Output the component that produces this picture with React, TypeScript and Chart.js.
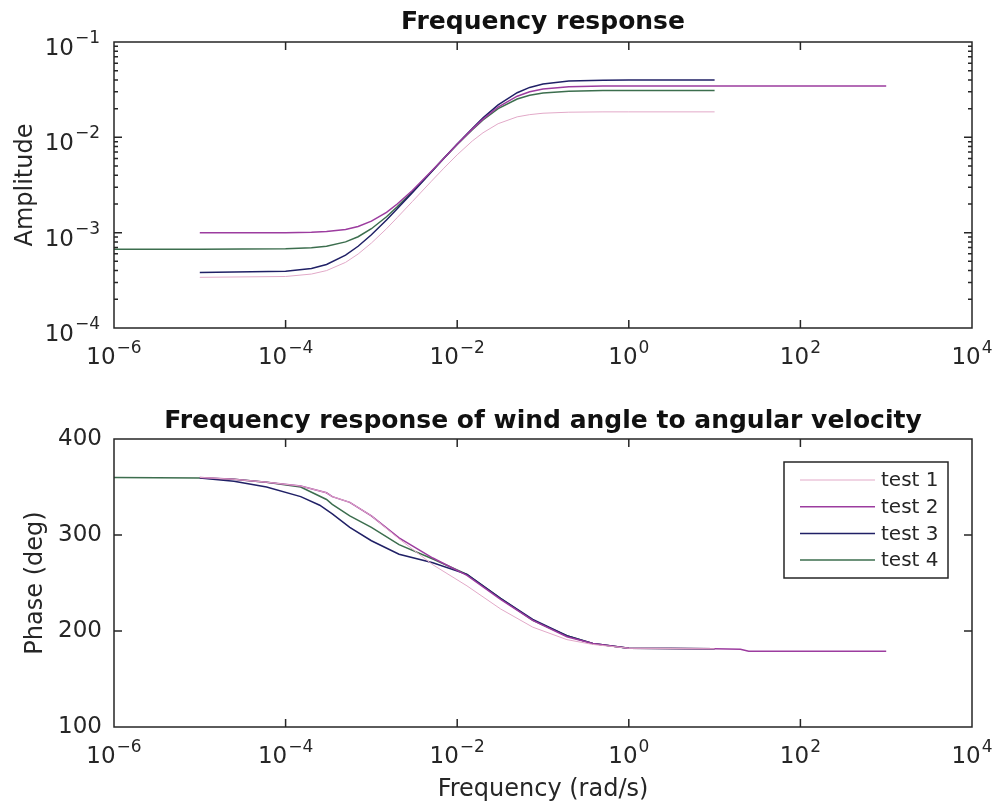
import React, { useEffect, useRef } from 'react';
import { Chart, registerables } from 'chart.js';

Chart.register(...registerables);

// ---------- data ----------
const seriesLabels = ['test 1', 'test 2', 'test 3', 'test 4'];
const seriesColors = ['#e2a9c8', '#9c3c9f', '#202066', '#3c6e4e'];
const seriesWidths = [1, 1.5, 1.5, 1.5];

// amplitude (top panel)
const ampFreq1 = [1e-5, 1e-4, 2e-4, 3e-4, 5e-4, 7e-4, 1e-3, 1.5e-3, 2e-3, 3e-3, 5e-3, 7e-3, 1e-2, 1.5e-2, 2e-2, 3e-2, 5e-2, 7e-2, 0.1, 0.2, 0.5, 1, 10];
const amp1 = [3.4e-4, 3.47e-4, 3.68e-4, 4.0e-4, 4.88e-4, 5.97e-4, 7.78e-4, 1.1e-3, 1.44e-3, 2.12e-3, 3.46e-3, 4.75e-3, 6.56e-3, 9.15e-3, 1.117e-2, 1.39e-2, 1.64e-2, 1.73e-2, 1.79e-2, 1.835e-2, 1.85e-2, 1.85e-2, 1.85e-2];

const ampFreq2 = [1e-5, 1e-4, 2e-4, 3e-4, 5e-4, 7e-4, 1e-3, 1.5e-3, 2e-3, 3e-3, 5e-3, 7e-3, 1e-2, 1.5e-2, 2e-2, 3e-2, 5e-2, 7e-2, 0.1, 0.2, 0.5, 1, 10, 100, 1000];
const amp2 = [1.0e-3, 1.0e-3, 1.01e-3, 1.03e-3, 1.08e-3, 1.16e-3, 1.32e-3, 1.63e-3, 2.0e-3, 2.77e-3, 4.4e-3, 6.04e-3, 8.45e-3, 1.22e-2, 1.55e-2, 2.08e-2, 2.7e-2, 3.0e-2, 3.21e-2, 3.39e-2, 3.45e-2, 3.46e-2, 3.46e-2, 3.46e-2, 3.46e-2];

const ampFreq3 = [1e-5, 1e-4, 2e-4, 3e-4, 5e-4, 7e-4, 1e-3, 1.5e-3, 2e-3, 3e-3, 5e-3, 7e-3, 1e-2, 1.5e-2, 2e-2, 3e-2, 5e-2, 7e-2, 0.1, 0.2, 0.5, 1, 10];
const amp3 = [3.83e-4, 3.93e-4, 4.2e-4, 4.63e-4, 5.8e-4, 7.2e-4, 9.5e-4, 1.36e-3, 1.78e-3, 2.63e-3, 4.34e-3, 6.03e-3, 8.5e-3, 1.24e-2, 1.6e-2, 2.19e-2, 2.94e-2, 3.34e-2, 3.63e-2, 3.9e-2, 3.98e-2, 4.0e-2, 4.0e-2];

const ampFreq4 = [1e-6, 1e-5, 1e-4, 2e-4, 3e-4, 5e-4, 7e-4, 1e-3, 1.5e-3, 2e-3, 3e-3, 5e-3, 7e-3, 1e-2, 1.5e-2, 2e-2, 3e-2, 5e-2, 7e-2, 0.1, 0.2, 0.5, 1, 10];
const amp4 = [6.7e-4, 6.7e-4, 6.77e-4, 6.93e-4, 7.2e-4, 8.0e-4, 9.06e-4, 1.1e-3, 1.47e-3, 1.87e-3, 2.69e-3, 4.36e-3, 6.02e-3, 8.41e-3, 1.2e-2, 1.52e-2, 2.0e-2, 2.52e-2, 2.76e-2, 2.92e-2, 3.05e-2, 3.09e-2, 3.1e-2, 3.1e-2];

// phase (bottom panel)
const phaseFreq1 = [1e-5, 2.5e-5, 6e-5, 1.5e-4, 3e-4, 3.5e-4, 5.6e-4, 1e-3, 2.1e-3, 5.2e-3, 1.3e-2, 3.2e-2, 7.6e-2, 0.19, 0.38, 1, 10];
const phase1 = [360, 358, 355, 351, 344, 340, 334, 320, 296, 269, 247, 223, 204, 191, 186, 182, 181.5];

const phaseFreq2 = [1e-5, 2.5e-5, 6e-5, 1.5e-4, 3e-4, 3.5e-4, 5.6e-4, 1e-3, 2.1e-3, 5.2e-3, 1.3e-2, 3.2e-2, 7.6e-2, 0.19, 0.38, 1, 10, 20, 25, 1000];
const phase2 = [360, 358, 355, 351, 344, 340, 334, 320, 297, 276, 258, 233, 211, 194, 187, 182, 181.5, 181, 179, 179];

const phaseFreq3 = [1e-5, 2.5e-5, 6e-5, 1.5e-4, 2.5e-4, 3.5e-4, 5.6e-4, 1e-3, 2.1e-3, 5.2e-3, 1.3e-2, 3.2e-2, 7.6e-2, 0.19, 0.38, 1, 10];
const phase3 = [359.5, 356, 350, 340, 331, 322, 308, 294, 280, 271, 259, 234, 212, 195, 187, 182, 181.5];

const phaseFreq4 = [1e-6, 1e-5, 2.5e-5, 6e-5, 1.5e-4, 3e-4, 3.5e-4, 5.6e-4, 1e-3, 2.1e-3, 5.2e-3, 1.3e-2, 3.2e-2, 7.6e-2, 0.19, 0.38, 1, 10];
const phase4 = [360, 359.5, 358, 355, 350, 337, 332, 320, 308, 290, 275, 259, 234, 211, 195, 187, 182, 181.5];

// ticks
const xTickValues = [1e-6, 1e-4, 1e-2, 1, 1e2, 1e4];
const ampTickValues = [1e-4, 1e-3, 1e-2, 1e-1];
const phaseTickValues = [100, 200, 300, 400];

// ---------- helpers ----------
const FONT = "'DejaVu Sans', sans-serif";
const TEXT = '#262626';
const zip = (xs: number[], ys: number[]) => xs.map((x, i) => ({ x, y: ys[i] }));
const expText = (v: number) => String(Math.round(Math.log10(v))).replace('-', '\u2212');

const ampMinorTicks: number[] = [];
for (let d = -4; d < -1; d++) for (let m = 2; m <= 9; m++) ampMinorTicks.push(m * Math.pow(10, d));

const framePlugin = {
  id: 'frame',
  afterDatasetsDraw(chart: any, _args: any, opts: any) {
    const { ctx, chartArea: a } = chart;
    const xs = chart.scales.x;
    const ys = chart.scales.y;
    ctx.save();
    ctx.strokeStyle = TEXT;
    ctx.lineWidth = 1.5;
    ctx.beginPath();
    const major = 8;
    const minor = 4;
    for (const t of xs.ticks) {
      const px = xs.getPixelForValue(t.value);
      if (px <= a.left + 1 || px >= a.right - 1) continue;
      ctx.moveTo(px, a.bottom); ctx.lineTo(px, a.bottom - major);
      ctx.moveTo(px, a.top); ctx.lineTo(px, a.top + major);
    }
    for (const t of ys.ticks) {
      const py = ys.getPixelForValue(t.value);
      if (py <= a.top + 1 || py >= a.bottom - 1) continue;
      ctx.moveTo(a.left, py); ctx.lineTo(a.left + major, py);
      ctx.moveTo(a.right, py); ctx.lineTo(a.right - major, py);
    }
    for (const v of (opts && opts.minorY) || []) {
      const py = ys.getPixelForValue(v);
      ctx.moveTo(a.left, py); ctx.lineTo(a.left + minor, py);
      ctx.moveTo(a.right, py); ctx.lineTo(a.right - minor, py);
    }
    ctx.stroke();
    ctx.strokeRect(a.left, a.top, a.right - a.left, a.bottom - a.top);
    ctx.restore();
  },
};

// power-of-ten tick labels ("10" with a raised exponent) for log axes
const powLabelPlugin = {
  id: 'powLabels',
  afterDraw(chart: any, _args: any, opts: any) {
    const axes: string[] = (opts && opts.axes) || [];
    const { ctx, chartArea: a } = chart;
    ctx.save();
    ctx.fillStyle = TEXT;
    ctx.textBaseline = 'alphabetic';
    ctx.textAlign = 'left';
    for (const id of axes) {
      const s = chart.scales[id];
      for (const t of s.ticks) {
        const e = expText(t.value);
        ctx.font = `23px ${FONT}`;
        const wb = ctx.measureText('10').width;
        ctx.font = `17px ${FONT}`;
        const we = ctx.measureText(e).width;
        if (s.isHorizontal()) {
          const px = s.getPixelForValue(t.value);
          const x0 = px - (wb + we + 1) / 2;
          const base = a.bottom + 36;
          ctx.font = `23px ${FONT}`;
          ctx.fillText('10', x0, base);
          ctx.font = `17px ${FONT}`;
          ctx.fillText(e, x0 + wb + 1, base - 11);
        } else {
          const py = s.getPixelForValue(t.value);
          const xr = a.left - 14;
          ctx.font = `17px ${FONT}`;
          ctx.fillText(e, xr - we, py + 1);
          ctx.font = `23px ${FONT}`;
          ctx.fillText('10', xr - we - 1 - wb, py + 13);
        }
      }
    }
    ctx.restore();
  },
};

const boxLegendPlugin = {
  id: 'boxLegend',
  afterDraw(chart: any, _args: any, opts: any) {
    if (!opts || !opts.show) return;
    const { ctx, chartArea: a } = chart;
    const ds = chart.data.datasets;
    const w = 164;
    const rowH = 26.7;
    const h = 116;
    const right = a.right - 24;
    const left = right - w;
    const top = a.top + 23;
    ctx.save();
    ctx.fillStyle = '#ffffff';
    ctx.fillRect(left, top, w, h);
    ctx.strokeStyle = TEXT;
    ctx.lineWidth = 1.5;
    ctx.strokeRect(left, top, w, h);
    ds.forEach((d: any, i: number) => {
      const y = top + 18 + i * rowH;
      ctx.strokeStyle = d.borderColor;
      ctx.lineWidth = d.borderWidth;
      ctx.beginPath();
      ctx.moveTo(left + 16, y);
      ctx.lineTo(left + 91, y);
      ctx.stroke();
      ctx.fillStyle = TEXT;
      ctx.font = `20px ${FONT}`;
      ctx.textBaseline = 'middle';
      ctx.textAlign = 'left';
      ctx.fillText(d.label, left + 97, y + 1);
    });
    ctx.restore();
  },
};

const makeDatasets = (pairs: { x: number; y: number }[][]) =>
  pairs.map((data, i) => ({
    label: seriesLabels[i],
    data,
    borderColor: seriesColors[i],
    backgroundColor: seriesColors[i],
    borderWidth: seriesWidths[i],
    pointRadius: 0,
    tension: 0,
    fill: false,
  }));

const tickFont = { family: FONT, size: 23 };
const labelFont = { family: FONT, size: 24 };
const titleFont = { family: FONT, size: 25, weight: 'bold' as const };

const xAxis = (height: number, withTitle: boolean) => ({
  type: 'logarithmic' as const,
  position: 'bottom' as const,
  min: 1e-6,
  max: 1e4,
  afterBuildTicks: (s: any) => { s.ticks = xTickValues.map((value) => ({ value })); },
  afterFit: (s: any) => { s.height = height; },
  ticks: { display: false, autoSkip: false, maxRotation: 0, minRotation: 0 },
  grid: { display: false, drawTicks: false },
  border: { display: false },
  title: { display: withTitle, text: 'Frequency (rad/s)', font: labelFont, color: TEXT, padding: { top: 0, bottom: 1 } },
});

const topAxis = (height: number, text: string, padTop: number) => ({
  type: 'logarithmic' as const,
  position: 'top' as const,
  min: 1e-6,
  max: 1e4,
  afterFit: (s: any) => { s.height = height; },
  ticks: { display: false },
  grid: { display: false, drawTicks: false },
  border: { display: false },
  title: { display: true, text, font: titleFont, color: '#111', padding: { top: padTop, bottom: 0 } },
});

const ampConfig = () => ({
  type: 'line' as const,
  data: { datasets: makeDatasets([zip(ampFreq1, amp1), zip(ampFreq2, amp2), zip(ampFreq3, amp3), zip(ampFreq4, amp4)]) },
  options: {
    responsive: false,
    animation: false as const,
    events: [],
    layout: { padding: { left: 0, right: 27, top: 0, bottom: 0 } },
    plugins: {
      legend: { display: false },
      tooltip: { enabled: false },
      frame: { minorY: ampMinorTicks },
      powLabels: { axes: ['x', 'y'] },
      boxLegend: { show: false },
    },
    scales: {
      x: xAxis(72, false),
      xTop: topAxis(42, 'Frequency response', 7),
      y: {
        type: 'logarithmic' as const,
        position: 'left' as const,
        min: 1e-4,
        max: 1e-1,
        afterBuildTicks: (s: any) => { s.ticks = ampTickValues.map((value) => ({ value })); },
        afterFit: (s: any) => { s.width = 114; },
        ticks: { display: false, autoSkip: false },
        grid: { display: false, drawTicks: false },
        border: { display: false },
        title: { display: true, text: 'Amplitude', font: labelFont, color: TEXT, padding: { top: 11, bottom: 0 } },
      },
    },
  },
  plugins: [framePlugin, powLabelPlugin, boxLegendPlugin],
});

const phaseConfig = () => ({
  type: 'line' as const,
  data: { datasets: makeDatasets([zip(phaseFreq1, phase1), zip(phaseFreq2, phase2), zip(phaseFreq3, phase3), zip(phaseFreq4, phase4)]) },
  options: {
    responsive: false,
    animation: false as const,
    events: [],
    layout: { padding: { left: 0, right: 27, top: 0, bottom: 0 } },
    plugins: {
      legend: { display: false },
      tooltip: { enabled: false },
      frame: { minorY: [] },
      powLabels: { axes: ['x'] },
      boxLegend: { show: true },
    },
    scales: {
      x: xAxis(78, true),
      xTop: topAxis(39, 'Frequency response of wind angle to angular velocity', 6),
      y: {
        type: 'linear' as const,
        position: 'left' as const,
        min: 100,
        max: 400,
        afterBuildTicks: (s: any) => { s.ticks = phaseTickValues.map((value) => ({ value })); },
        afterFit: (s: any) => { s.width = 114; },
        ticks: { callback: (v: any) => String(v), autoSkip: false, padding: 12, font: tickFont, color: TEXT },
        grid: { display: false, drawTicks: false },
        border: { display: false },
        title: { display: true, text: 'Phase (deg)', font: labelFont, color: TEXT, padding: { top: 21, bottom: 0 } },
      },
    },
  },
  plugins: [framePlugin, powLabelPlugin, boxLegendPlugin],
});

function ChartCanvas({ config, width, height }: { config: () => any; width: number; height: number }) {
  const ref = useRef<HTMLCanvasElement | null>(null);
  useEffect(() => {
    if (!ref.current) return;
    const chart = new Chart(ref.current, config());
    return () => chart.destroy();
  }, [config]);
  return <canvas ref={ref} width={width} height={height} style={{ display: 'block', width, height }} />;
}

export default function App() {
  return (
    <div style={{ position: 'absolute', left: 0, top: 0, width: 999, height: 805, background: '#ffffff' }}>
      <ChartCanvas config={ampConfig} width={999} height={400} />
      <ChartCanvas config={phaseConfig} width={999} height={405} />
    </div>
  );
}
